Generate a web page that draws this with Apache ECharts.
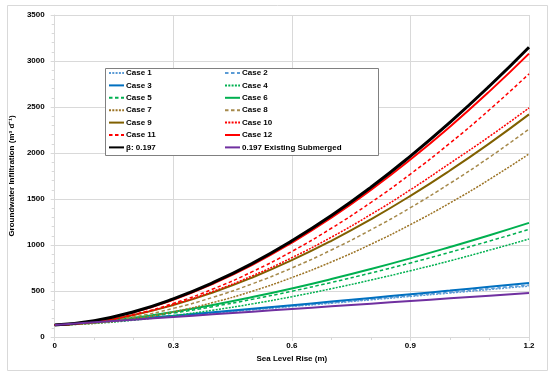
<!DOCTYPE html>
<html>
<head>
<meta charset="utf-8">
<script src="https://cdn.jsdelivr.net/npm/echarts@6/dist/echarts.min.js"></script>
<style>html,body{margin:0;padding:0;background:#fff}#c{width:550px;height:372px}</style>
</head>
<body>
<div id="c"></div>
<script>
var slr = [0, 0.1, 0.2, 0.3, 0.4, 0.5, 0.6, 0.7, 0.8, 0.9, 1.0, 1.1, 1.2];
var xTicks = ['0', '0.3', '0.6', '0.9', '1.2'];

var case1  = [130, 159, 191, 225, 259, 295, 331, 367, 404, 441, 478, 516, 554];
var case2  = [130, 160, 193, 227, 263, 299, 336, 373, 411, 449, 487, 526, 565];
var case3  = [130, 161, 196, 232, 270, 308, 346, 385, 425, 465, 505, 546, 587];
var case4  = [130, 148, 183, 232, 291, 360, 438, 525, 619, 720, 828, 944, 1065];
var case5  = [130, 155, 201, 260, 330, 410, 498, 593, 696, 805, 921, 1043, 1170];
var case6  = [130, 158, 208, 273, 348, 434, 528, 630, 739, 855, 978, 1106, 1240];
var case7  = [130, 149, 198, 273, 374, 498, 646, 816, 1008, 1222, 1457, 1713, 1990];
var case8  = [130, 156, 218, 311, 431, 578, 750, 946, 1165, 1406, 1670, 1954, 2260];
var case9  = [130, 164, 239, 347, 484, 647, 835, 1046, 1279, 1534, 1810, 2105, 2420];
var case10 = [130, 165, 242, 352, 495, 665, 862, 1085, 1332, 1600, 1888, 2180, 2490];
var case11 = [130, 164, 245, 365, 521, 710, 930, 1182, 1462, 1771, 2107, 2470, 2860];
var case12 = [130, 175, 270, 405, 578, 784, 1026, 1297, 1599, 1929, 2286, 2670, 3080];
var beta   = [130, 178, 275, 415, 590, 800, 1045, 1320, 1627, 1966, 2333, 2728, 3150];
var existing = [130, 159, 188, 217, 246, 275, 304, 333, 362, 391, 420, 449, 478];

var names = ['Case 1','Case 2','Case 3','Case 4','Case 5','Case 6','Case 7','Case 8','Case 9','Case 10','Case 11','Case 12','\u03B2: 0.197','0.197 Existing Submerged'];
var values = [case1,case2,case3,case4,case5,case6,case7,case8,case9,case10,case11,case12,beta,existing];

var DOT = [2, 1.3], DASH = [3.5, 2.5];
var styles = [
  {c:'#5B9BD5', t:DOT, w:1.5},
  {c:'#5B9BD5', t:DASH, w:1.5},
  {c:'#0070C0', t:'solid', w:2},
  {c:'#00B050', t:DOT, w:1.5},
  {c:'#00B050', t:DASH, w:1.5},
  {c:'#00B050', t:'solid', w:2},
  {c:'#9C7426', t:DOT, w:1.5},
  {c:'#A68A4C', t:DASH, w:1.5},
  {c:'#806000', t:'solid', w:2},
  {c:'#FF0000', t:DOT, w:1.5},
  {c:'#FF0000', t:DASH, w:1.5},
  {c:'#FF0000', t:'solid', w:2},
  {c:'#000000', t:'solid', w:3},
  {c:'#7030A0', t:'solid', w:2}
];

var series = names.map(function (n, i) {
  return {
    name: n, type: 'line', symbol: 'none', smooth: true,
    data: slr.map(function (x, j) { return [x, values[i][j]]; }),
    lineStyle: {color: styles[i].c, type: styles[i].t, width: styles[i].w},
    itemStyle: {color: styles[i].c},
    z: 2
  };
});

var font = 'Liberation Sans';
var legendCommon = {
  orient: 'vertical', top: 69, itemWidth: 15, itemHeight: 8, itemGap: 4.4,
  padding: 0,
  itemStyle: {opacity: 0},
  textStyle: {fontFamily: font, fontWeight: 'bold', fontSize: 8, color: '#000', padding: [0,0,0,-3]},
  z: 6
};
var left = [], right = [];
names.forEach(function (n, i) { (i % 2 === 0 ? left : right).push(n); });

var chart = echarts.init(document.getElementById('c'), null, {renderer: 'canvas'});
chart.setOption({
  animation: false,
  backgroundColor: '#fff',
  graphic: [
    {type: 'rect', left: 5, top: 3, shape: {width: 540, height: 365}, style: {fill: 'none', stroke: '#D9D9D9', lineWidth: 1}, z: 0},
    {type: 'rect', left: 105, top: 68, shape: {width: 273, height: 87}, style: {fill: '#fff', stroke: '#808080', lineWidth: 1}, z: 5}
  ],
  legend: [
    Object.assign({}, legendCommon, {left: 108, data: left}),
    Object.assign({}, legendCommon, {left: 224, data: right})
  ],
  grid: {left: 53, right: 21, top: 15, bottom: 35, containLabel: false},
  xAxis: {
    type: 'value', min: 0, max: 1.2, interval: 0.3,
    name: 'Sea Level Rise (m)', nameLocation: 'middle', nameGap: 17,
    nameTextStyle: {fontFamily: font, fontWeight: 'bold', fontSize: 8, color: '#000'},
    axisLine: {show: true, lineStyle: {color: '#D9D9D9'}},
    axisTick: {show: true, length: 4, lineStyle: {color: '#D9D9D9'}},
    minorTick: {show: true, splitNumber: 3, length: 3, lineStyle: {color: '#D9D9D9'}},
    axisLabel: {fontFamily: font, fontWeight: 'bold', fontSize: 8, color: '#000', margin: 5,
      formatter: function (v) { var s = String(Math.round(v * 10) / 10); return xTicks.indexOf(s) >= 0 ? s : ''; }},
    splitLine: {show: true, lineStyle: {color: '#D9D9D9'}}
  },
  yAxis: {
    type: 'value', min: 0, max: 3500, interval: 500,
    name: 'Groundwater Infiltration (m\u00B3 d\u207B\u00B9)', nameLocation: 'middle', nameGap: 34,
    nameTextStyle: {fontFamily: font, fontWeight: 'bold', fontSize: 8, color: '#000'},
    axisLine: {show: true, lineStyle: {color: '#D9D9D9'}},
    axisTick: {show: true, length: 4, lineStyle: {color: '#D9D9D9'}},
    minorTick: {show: true, splitNumber: 5, length: 3, lineStyle: {color: '#D9D9D9'}},
    axisLabel: {fontFamily: font, fontWeight: 'bold', fontSize: 8, color: '#000', margin: 10,
      formatter: function (v) { return String(v); }},
    splitLine: {show: true, lineStyle: {color: '#D9D9D9'}}
  },
  series: series
});
</script>
</body>
</html>
